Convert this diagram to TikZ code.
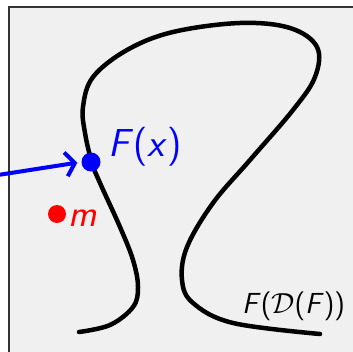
\RequirePackage{fix-cm}
\documentclass[tikz,border=0pt]{standalone}
\usetikzlibrary{arrows.meta}
\definecolor{boxfill}{HTML}{F0F0F0}
\definecolor{boxline}{HTML}{333333}
\tikzset{
  curve/.style={line width=4.5pt, line cap=round},
  dotnode/.style={circle, inner sep=0pt, minimum size=#1},
  lbl/.style={inner sep=0pt, font=\sffamily\slshape},
}
\begin{document}
\begin{tikzpicture}[x=1pt,y=-1pt]
\useasboundingbox (0,0) rectangle (353,352);
\fill[white] (0,0) rectangle (353,352);
\draw[boxline, fill=boxfill, line width=1.5pt] (9,7) rectangle (370,370);
\draw[curve] plot[smooth, tension=0.6] coordinates {
 (79,332) (110,325) (133,307) (138,287) (133,260) (120,227) (100,183) (92,163)
 (85,133) (83,107) (93,77) (127,50) (173,32) (240,23) (290,28) (317,47) (315,77)
 (293,110) (250,160) (213,203) (187,247) (182,280) (193,303) (233,323) (320,334)};
\node[dotnode=19pt, fill=blue] (fx) at (91,162) {};
\node[dotnode=18pt, fill=red] (m) at (57,214) {};
\coordinate (src) at (-2,175);
\draw[blue, line width=4pt, line cap=round, shorten >=4pt,
  -{Straight Barb[length=9pt,width=24pt,line width=4pt]}] (src) -- (fx.west);
\node[lbl, blue, anchor=base west, font=\fontsize{39}{44}\sffamily] (fxl) at (108,157) {\textsl{F}(\textsl{x})};
\node[lbl, red, anchor=base west, font=\fontsize{38}{42}\sffamily\slshape] (ml) at (68,227) {m};
\node[lbl, black, anchor=base west, font=\fontsize{29}{33}\sffamily] (dl) at (242,313) {\textsl{F}($\mathcal{D}$(\textsl{F}))};
\end{tikzpicture}
\end{document}
